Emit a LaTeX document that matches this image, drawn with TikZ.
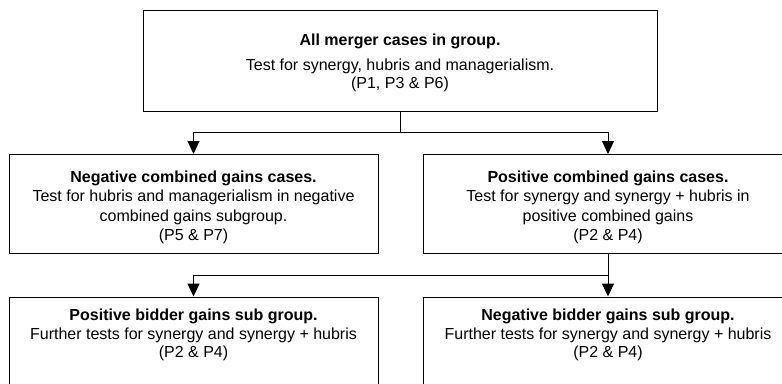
\documentclass[tikz,border=0pt]{standalone}
\usepackage{fontspec}
\setmainfont{Liberation Sans}
\usetikzlibrary{arrows.meta}
\tikzset{
  box/.style={draw, line width=1pt, rectangle, inner sep=0pt},
  ln/.style={anchor=base, inner sep=0pt, font=\fontsize{16}{19.5}\selectfont},
  bln/.style={ln, font=\fontsize{16}{19.5}\selectfont\bfseries},
  conn/.style={line width=1pt},
  arr/.style={conn, -{Triangle[width=12pt,length=13pt]}}
}
\begin{document}
\begin{tikzpicture}[x=1pt,y=-1pt]
\clip (0,0) rectangle (782,383);
\fill[white] (0,0) rectangle (782,383);
% boxes
\node[box, minimum width=514pt, minimum height=101pt] (top) at (400,60.5) {};
\node[box, minimum width=369pt, minimum height=99pt] (negc) at (193.5,204) {};
\node[box, minimum width=370pt, minimum height=99pt] (posc) at (608,204) {};
\node[box, minimum width=369pt, minimum height=104pt] (posb) at (193.5,349) {};
\node[box, minimum width=370pt, minimum height=104pt] (negb) at (608,349) {};
% top text
\node[bln] (t1) at (400,45) {All merger cases in group.};
\node[ln] (t2) at (400,70) {Test for synergy, hubris and managerialism.};
\node[ln] (t3) at (400,88.5) {(P1, P3 \& P6)};
% negative combined
\node[bln] (n1) at (193.5,182) {Negative combined gains cases.};
\node[ln] (n2) at (193.5,201.5) {Test for hubris and managerialism in negative};
\node[ln] (n3) at (193.5,221) {combined gains subgroup.};
\node[ln] (n4) at (193.5,240.5) {(P5 \& P7)};
% positive combined
\node[bln] (p1) at (608,182) {Positive combined gains cases.};
\node[ln] (p2) at (608,201.5) {Test for synergy and synergy + hubris in};
\node[ln] (p3) at (608,221) {positive combined gains};
\node[ln] (p4) at (608,240.5) {(P2 \& P4)};
% positive bidder
\node[bln] (b1) at (193.5,320) {Positive bidder gains sub group.};
\node[ln] (b2) at (193.5,339.5) {Further tests for synergy and synergy + hubris};
\node[ln] (b3) at (193.5,357.5) {(P2 \& P4)};
% negative bidder
\node[bln] (c1) at (608,320) {Negative bidder gains sub group.};
\node[ln] (c2) at (608,339.5) {Further tests for synergy and synergy + hubris};
\node[ln] (c3) at (608,357.5) {(P2 \& P4)};
% connectors
\coordinate (j1) at (400,132);
\draw[conn] (top.south) -- (j1);
\draw[arr] (j1) -| (negc.north);
\draw[arr] (j1) -| (posc.north);
\coordinate (j2) at (608,275);
\draw[arr] (posc.south) -- (negb.north);
\draw[arr] (j2) -| (posb.north);
\end{tikzpicture}
\end{document}
